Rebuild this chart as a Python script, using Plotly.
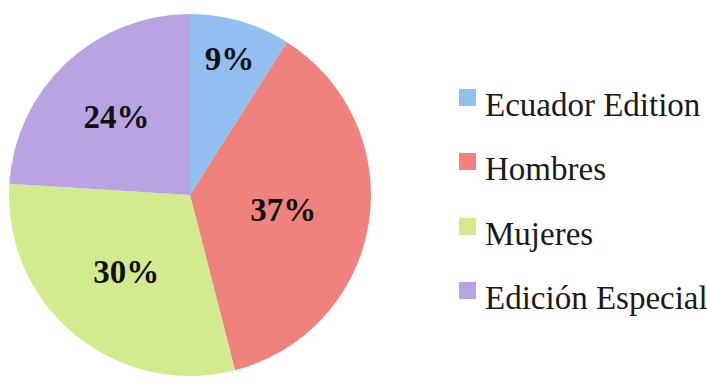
import plotly.graph_objects as go

# Sales split by product line
categories = ["Ecuador Edition", "Hombres", "Mujeres", "Edición Especial"]
values = [9, 37, 30, 24]
colors = ["#93bef0", "#f0827d", "#d3eb8f", "#b9a3e2"]

W, H = 707, 387

fig = go.Figure(
    go.Pie(
        labels=categories,
        values=values,
        sort=False,
        direction="clockwise",
        rotation=0,
        marker=dict(colors=colors, line=dict(width=0)),
        textinfo="percent",
        texttemplate="%{percent:.0%}",
        textposition="inside",
        insidetextorientation="horizontal",
        textfont=dict(family="Liberation Serif", size=33, color="#111111", weight="bold"),
        domain=dict(x=[9 / W, 371 / W], y=[1 - 379 / H, 1 - 11 / H]),
        showlegend=False,
        hoverinfo="label+percent",
    )
)

# Legend: colour swatch plus label for each category
legend_x = 459
legend_text_x = 483
row_y = [103, 167, 232, 296]
sw = 17
for name, col, y in zip(categories, colors, row_y):
    fig.add_shape(
        type="rect", xref="paper", yref="paper",
        x0=legend_x / W, x1=(legend_x + sw) / W,
        y0=1 - (y + 3) / H, y1=1 - (y - 14) / H,
        fillcolor=col, line=dict(width=0),
    )
    fig.add_annotation(
        x=legend_text_x / W, y=1 - (y + 2) / H, xref="paper", yref="paper",
        text=name, showarrow=False, xanchor="left", yanchor="middle",
        font=dict(family="Liberation Serif", size=33, color="#1a1a1a"),
    )

fig.update_layout(
    width=W, height=H,
    margin=dict(l=0, r=0, t=0, b=0),
    paper_bgcolor="white",
    plot_bgcolor="white",
)

fig.write_html("out.html")
